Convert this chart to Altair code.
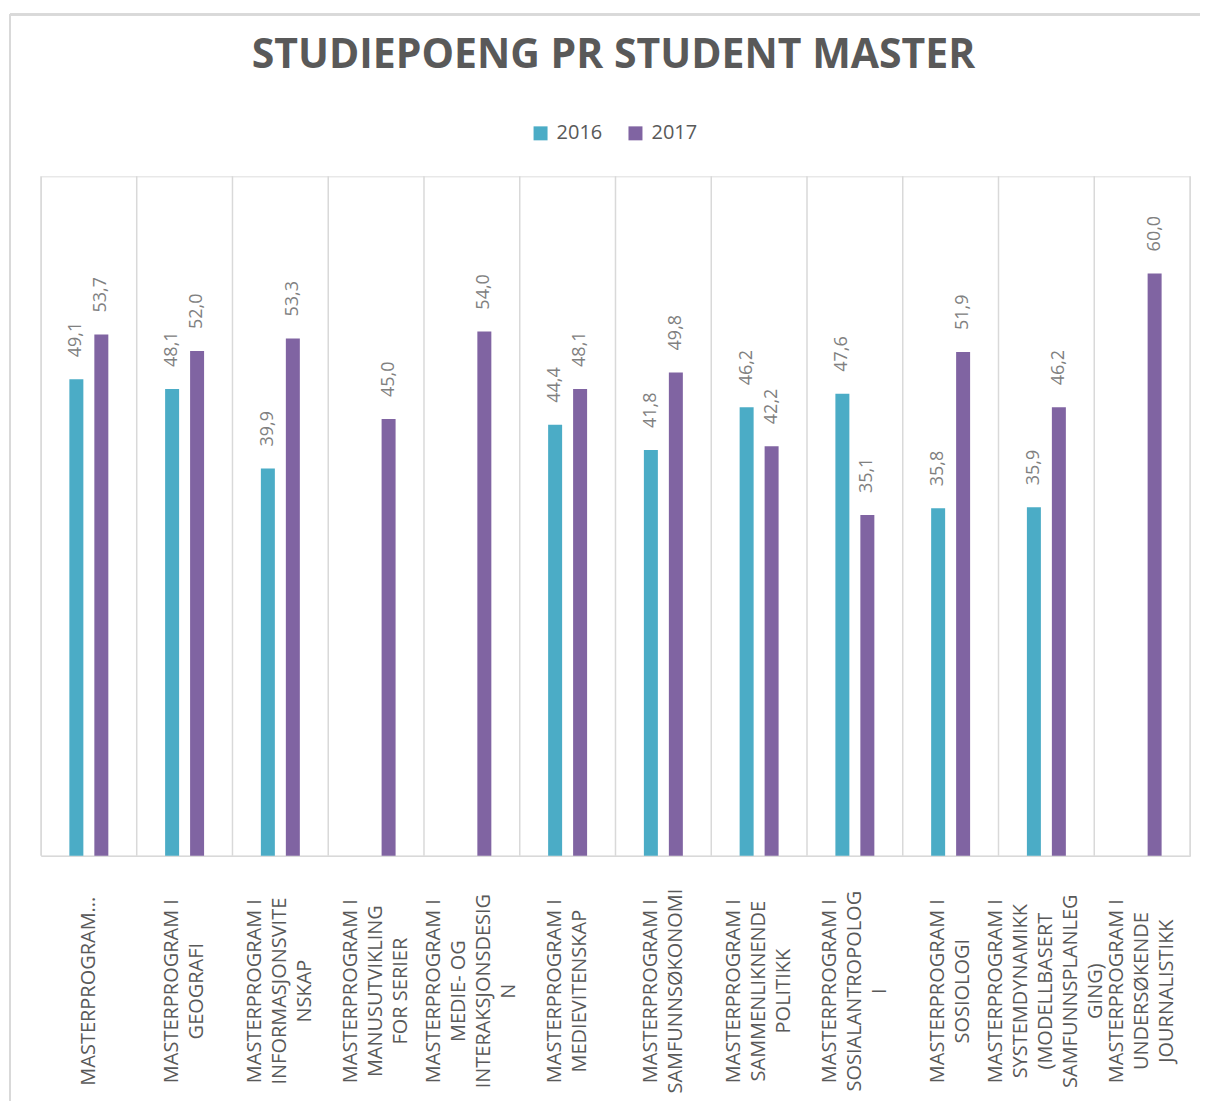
import altair as alt
import pandas as pd

title_text = "STUDIEPOENG PR STUDENT MASTER"
categories = [
    "MASTERPROGRAM...",
    "MASTERPROGRAM I|GEOGRAFI",
    "MASTERPROGRAM I|INFORMASJONSVITE|NSKAP",
    "MASTERPROGRAM I|MANUSUTVIKLING|FOR SERIER",
    "MASTERPROGRAM I|MEDIE- OG|INTERAKSJONSDESIG|N",
    "MASTERPROGRAM I|MEDIEVITENSKAP",
    "MASTERPROGRAM I|SAMFUNNSØKONOMI",
    "MASTERPROGRAM I|SAMMENLIKNENDE|POLITIKK",
    "MASTERPROGRAM I|SOSIALANTROPOLOG|I",
    "MASTERPROGRAM I|SOSIOLOGI",
    "MASTERPROGRAM I|SYSTEMDYNAMIKK|(MODELLBASERT|SAMFUNNSPLANLEG|GING)",
    "MASTERPROGRAM I|UNDERSØKENDE|JOURNALISTIKK",
]
values_2016 = [49.1, 48.1, 39.9, None, None, 44.4, 41.8, 46.2, 47.6, 35.8, 35.9, None]
values_2017 = [53.7, 52.0, 53.3, 45.0, 54.0, 48.1, 49.8, 42.2, 35.1, 51.9, 46.2, 60.0]
years = ["2016", "2017"]
colors = ["#4BACC6", "#8064A2"]

rows = []
for c, a, b in zip(categories, values_2016, values_2017):
    for yr, v in zip(years, (a, b)):
        if v is not None:
            rows.append({"cat": c, "year": yr, "value": v,
                         "label": f"{v:.1f}".replace(".", ",")})
df = pd.DataFrame(rows)
cat_df = pd.DataFrame({"cat": categories})
last_df = pd.DataFrame({"cat": categories[-1:]})
title_df = pd.DataFrame({"t": [title_text]})

W, H = 1150, 680
GRID = "#D9D9D9"
LH = 25

# centre multi-line labels on their tick (Vega stacks lines from the anchor)
label_offset = {
    "condition": [
        {"test": f"length(split(datum.value, '|')) == {n}", "value": -(n - 1) * LH / 2}
        for n in (2, 3, 4, 5)
    ],
    "value": 0,
}

x_enc = alt.X(
    "cat:N", sort=categories,
    scale=alt.Scale(paddingInner=0, paddingOuter=0),
    axis=alt.Axis(
        title=None, labelAngle=270, labelAlign="center", labelBaseline="middle",
        labelPadding=135, labelExpr="split(datum.label, '|')", labelLineHeight=LH,
        labelOffset=label_offset,
        labelFont="Open Sans", labelFontSize=20, labelColor="#595959",
        labelLimit=400, labelOverlap=False, ticks=False, tickSize=0,
        domainColor=GRID, domainWidth=1.5, grid=False,
    ),
)
y_enc = alt.Y("value:Q", scale=alt.Scale(domain=[0, 70], nice=False), axis=None)
xoff = alt.XOffset("year:N", sort=years,
                   scale=alt.Scale(paddingInner=0, paddingOuter=0.917))

grid = alt.Chart(cat_df).mark_rule(color=GRID, strokeWidth=1.5).encode(
    x=alt.X("cat:N", sort=categories, bandPosition=0)
)
grid_end = alt.Chart(last_df).mark_rule(color=GRID, strokeWidth=1.5).encode(
    x=alt.X("cat:N", sort=categories, bandPosition=1)
)

bars = alt.Chart(df).mark_bar(width=14).encode(
    x=x_enc, y=y_enc, xOffset=xoff,
    color=alt.Color(
        "year:N", scale=alt.Scale(domain=years, range=colors),
        legend=alt.Legend(
            title=None, orient="none", legendX=490, legendY=-53,
            direction="horizontal", symbolType="square", symbolSize=196,
            symbolStrokeWidth=0, labelFont="Open Sans", labelFontSize=20,
            labelColor="#595959", padding=0, labelOffset=6, columnPadding=23,
        ),
    ),
)

labels = alt.Chart(df).mark_text(
    angle=270, align="left", baseline="middle", dx=22,
    font="Open Sans", fontSize=18, color="#808080",
).encode(x=alt.X("cat:N", sort=categories), y=y_enc, xOffset=xoff, text="label:N")

title = alt.Chart(title_df).mark_text(
    font="Open Sans", fontSize=41, fontWeight="bold", color="#595959",
    align="center", baseline="alphabetic",
).encode(text="t:N", x=alt.value(W / 2 - 2), y=alt.value(-108))

border_top = alt.Chart(cat_df).mark_rule(color=GRID, strokeWidth=2).encode(
    x=alt.value(-31), x2=alt.value(W + 10), y=alt.value(-162)
)
border_left = alt.Chart(cat_df).mark_rule(color=GRID, strokeWidth=2).encode(
    x=alt.value(-31), y=alt.value(-162), y2=alt.value(925)
)

chart = alt.layer(grid, grid_end, bars, labels, title, border_top, border_left).properties(
    width=W, height=H,
    padding={"left": 1, "top": 5, "right": 0, "bottom": 0},
).configure_view(stroke=None).configure(background="white")

chart.save("out.html", embed_options={"renderer": "svg", "actions": False})
